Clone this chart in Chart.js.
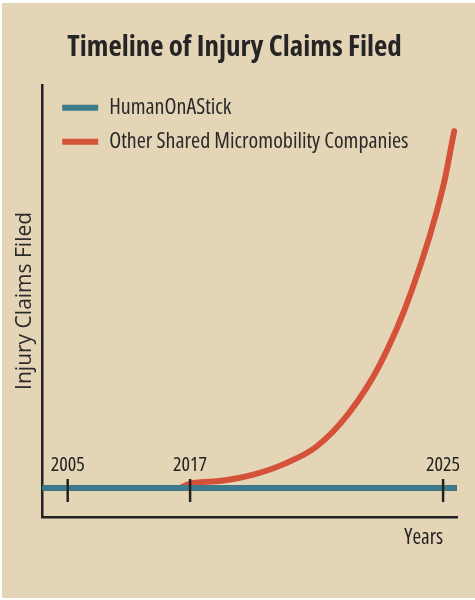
<!DOCTYPE html>
<html>
<head>
<meta charset="utf-8">
<title>Timeline of Injury Claims Filed</title>
<script src="https://cdn.jsdelivr.net/npm/chart.js@4.4.1/dist/chart.umd.min.js"></script>
<style>
  html, body { margin: 0; padding: 0; background: #ffffff; }
  #wrap {
    position: absolute; left: 2px; top: 3px;
    width: 473px; height: 595px;
    background: #e5d5b7;
  }
</style>
</head>
<body>
<div id="wrap"><canvas id="claimsChart"></canvas></div>
<script>
// values
const tickYears = [2005, 2017, 2025];

const humanYears = [2000, 2005, 2017, 2025, 2030];
const humanClaims = [0, 0, 0, 0, 0];

const otherYears = [2016, 2017, 2018, 2019, 2020, 2021, 2022, 2023, 2024, 2025, 2025.35];
const otherClaims = [0, 1.5, 2.5, 4.6, 8.4, 14.3, 25.5, 42.5, 67.8, 103.8, 123];

const INK = '#222222';
const SANS = "'Open Sans', 'DejaVu Sans Condensed', sans-serif";

// the years before 2017 are drawn squeezed on the timeline
const BREAK_YEAR = 2017;
const SQUEEZE = 3.1;

class SqueezedScale extends Chart.LinearScale {
  warp(v) {
    return v < BREAK_YEAR ? BREAK_YEAR - (BREAK_YEAR - v) / SQUEEZE : v;
  }
  getPixelForValue(v) {
    if (v === null || v === undefined) return NaN;
    const a = this.warp(this.min), b = this.warp(this.max);
    return this.getPixelForDecimal((this.warp(v) - a) / (b - a));
  }
}
SqueezedScale.id = 'squeezed';
SqueezedScale.defaults = {};
Chart.register(SqueezedScale);

// a vertical 'chartArea' legend gets top = 0, put it back inside the plot
const legendInside = {
  id: 'legendInside',
  afterLayout(chart) {
    const lg = chart.legend;
    const h = lg.height;
    lg.top = chart.chartArea.top;
    lg.bottom = lg.top + h;
    lg.left = chart.chartArea.left + 8;
  }
};

// year ticks sit on the baseline, labels above them
const yearMarks = {
  id: 'yearMarks',
  afterDatasetsDraw(chart) {
    const { ctx, chartArea, scales: { x, y } } = chart;
    const base = y.getPixelForValue(0);
    ctx.save();
    ctx.strokeStyle = INK;
    ctx.fillStyle = INK;
    ctx.lineWidth = 2.5;
    ctx.font = 'condensed 20px ' + SANS;
    ctx.textAlign = 'center';
    ctx.textBaseline = 'middle';
    tickYears.forEach(yr => {
      const px = x.getPixelForValue(yr);
      ctx.beginPath();
      ctx.moveTo(px, base - 9);
      ctx.lineTo(px, base + 14);
      ctx.stroke();
      ctx.fillText(String(yr), px, base - 23);
    });
    ctx.font = 'condensed 21px ' + SANS;
    ctx.textAlign = 'right';
    ctx.fillText('Years', x.getPixelForValue(tickYears[tickYears.length - 1]), chartArea.bottom + 21);
    ctx.restore();
  }
};

const toPoints = (xs, ys) => xs.map((yr, i) => ({ x: yr, y: ys[i] }));

new Chart(document.getElementById('claimsChart'), {
  type: 'line',
  data: {
    datasets: [
      {
        label: 'HumanOnAStick',
        data: toPoints(humanYears, humanClaims),
        borderColor: '#3d7a8b',
        backgroundColor: '#3d7a8b',
        borderWidth: 6,
        borderCapStyle: 'round',
        pointRadius: 0,
        tension: 0,
        clip: 0
      },
      {
        label: 'Other Shared Micromobility Companies',
        data: toPoints(otherYears, otherClaims),
        borderColor: '#d5523a',
        backgroundColor: '#d5523a',
        borderWidth: 6,
        borderCapStyle: 'round',
        pointRadius: 0,
        cubicInterpolationMode: 'monotone'
      }
    ]
  },
  options: {
    responsive: true,
    maintainAspectRatio: false,
    animation: false,
    events: [],
    layout: { padding: { left: 10, right: 18, top: 0, bottom: 81 } },
    scales: {
      x: {
        type: 'squeezed',
        position: 'bottom',
        min: 2002.5,
        max: 2025.44,
        grid: { display: false, drawTicks: false },
        ticks: { display: false },
        border: { display: true, color: INK, width: 2.5 }
      },
      y: {
        type: 'linear',
        min: -10,
        max: 139,
        grid: { display: false, drawTicks: false },
        ticks: { display: false },
        border: { display: true, color: INK, width: 2.5 },
        title: {
          display: true,
          text: 'Injury Claims Filed',
          color: '#2a2a2a',
          font: { family: SANS, size: 21 },
          padding: { top: 0, bottom: 5 }
        }
      }
    },
    plugins: {
      title: {
        display: true,
        text: 'Timeline of Injury Claims Filed',
        color: '#252525',
        font: { family: SANS, size: 29, weight: 'bold condensed' },
        padding: { top: 27, bottom: 20 }
      },
      legend: {
        position: 'chartArea',
        align: 'start',
        labels: {
          color: '#2a2a2a',
          font: { family: SANS, size: 22, weight: 'condensed' },
          usePointStyle: true,
          pointStyle: 'line',
          pointStyleWidth: 36,
          padding: 12
        }
      },
      tooltip: { enabled: false }
    }
  },
  plugins: [legendInside, yearMarks]
});
</script>
</body>
</html>
